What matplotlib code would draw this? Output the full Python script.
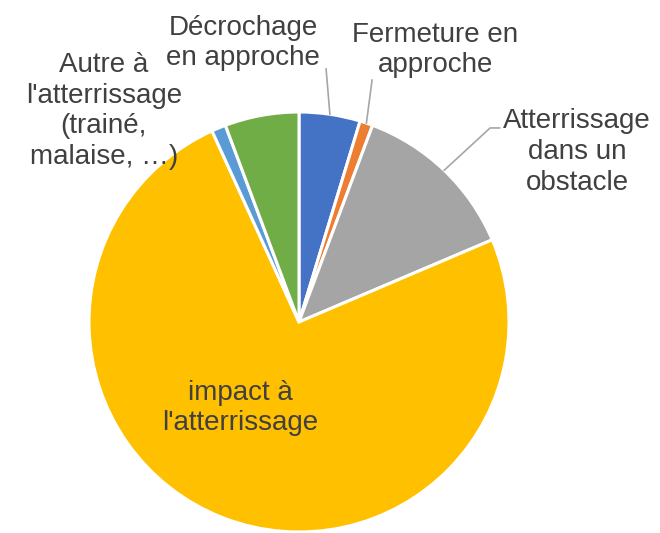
import numpy as np
from matplotlib import pyplot as plt

# slices, clockwise from 12 o'clock
labels = ['Décrochage\nen approche', 'Fermeture en\napproche',
          'Atterrissage\ndans un\nobstacle', "impact à\nl'atterrissage",
          "Autre à\nl'atterrissage\n(trainé,\nmalaise, …)", '']
values = [4.7, 1.0, 12.9, 74.6, 1.1, 5.7]
colors = ['#4472C4', '#ED7D31', '#A5A5A5', '#FFC000', '#5B9BD5', '#70AD47']

# label centres (data units, pie radius = 1)
label_pos = [(-0.267, 1.329), (0.648, 1.295), (1.325, 0.81),
             (-0.281, -0.41), (-0.93, 1.005), None]
leader = [True, True, True, False, False, False]

plt.rcParams['font.family'] = ['Liberation Sans', 'DejaVu Sans']
txtcol = '#404040'
grey = '#A6A6A6'

fig = plt.figure(figsize=(6.6, 5.33), dpi=100)
ax = fig.add_axes([0, 0, 1, 1])
wedges, _ = ax.pie(values, colors=colors, startangle=90, counterclock=False,
                   radius=1.0, wedgeprops=dict(edgecolor='white', linewidth=2.2))
ax.set_xlim(-299 / 210, 361 / 210)
ax.set_ylim(-211 / 210, 322 / 210)
ax.set_aspect('equal')
ax.axis('off')

tot = sum(values)
cum = 0
for i, v in enumerate(values):
    mid = np.deg2rad(90 - 360 * (cum + v / 2) / tot)
    cum += v
    if label_pos[i] is None:
        continue
    x, y = label_pos[i]
    ax.text(x, y, labels[i], ha='center', va='center', fontsize=20,
            color=txtcol, linespacing=1.24)
    if not leader[i]:
        continue
    ex, ey = np.cos(mid), np.sin(mid)
    if i == 2:
        # elbow leader for the obstacle label
        ax.plot([ex, 0.91, 0.955], [ey, 0.924, 0.924], color=grey, lw=1.2)
    elif i == 0:
        ax.plot([ex, 0.129], [ey, 1.205], color=grey, lw=1.2)
    else:
        ax.plot([ex, 0.348], [ey, 1.152], color=grey, lw=1.2)

fig.savefig('out.png', dpi=100)
